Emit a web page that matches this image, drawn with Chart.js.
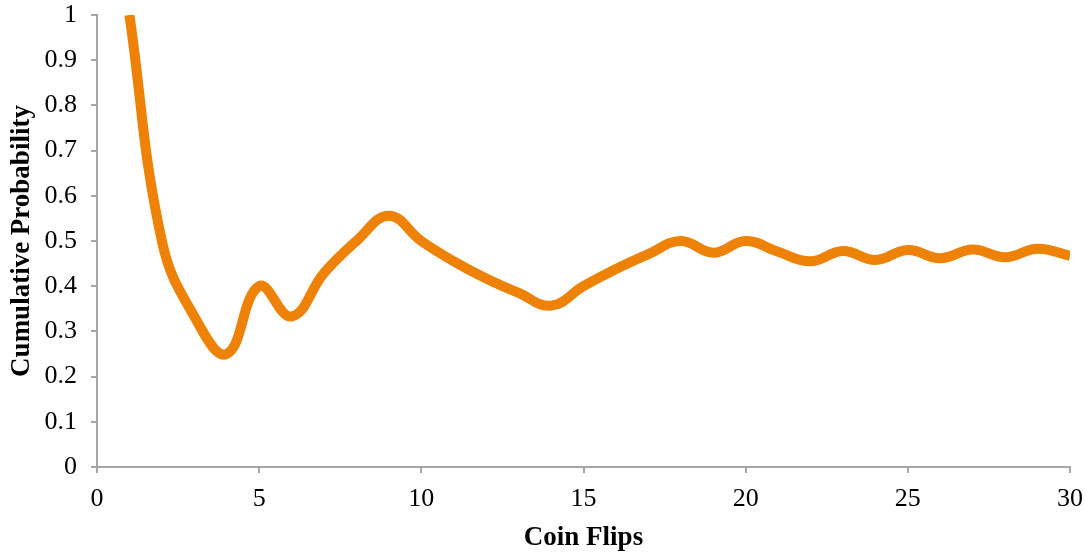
<!DOCTYPE html>
<html>
<head>
<meta charset="utf-8">
<script src="https://cdn.jsdelivr.net/npm/chart.js@4/dist/chart.umd.min.js"></script>
<style>
  html, body { margin: 0; padding: 0; background: #fff; }
  #wrap { width: 1086px; height: 554px; position: relative; }
</style>
</head>
<body>
<div id="wrap"><canvas id="c"></canvas></div>
<script>
// Number of coin flips so far
const flips = [1, 2, 3, 4, 5, 6, 7, 8, 9, 10,
               11, 12, 13, 14, 15, 16, 17, 18, 19, 20,
               21, 22, 23, 24, 25, 26, 27, 28, 29, 30];
// Running share of heads after each flip
const cumulativeProbability = [1.000, 0.500, 0.333, 0.250, 0.400, 0.333, 0.429, 0.500, 0.556, 0.500,
                               0.455, 0.417, 0.385, 0.357, 0.400, 0.438, 0.471, 0.500, 0.474, 0.500,
                               0.476, 0.455, 0.478, 0.458, 0.480, 0.462, 0.481, 0.464, 0.483, 0.467];
const xTicks = [0, 5, 10, 15, 20, 25, 30];
const yTicks = [0, 0.1, 0.2, 0.3, 0.4, 0.5, 0.6, 0.7, 0.8, 0.9, 1];

const points = flips.map((f, i) => ({ x: f, y: cumulativeProbability[i] }));
const axisGrey = '#A6A6A6';
const serif = "'Liberation Serif', 'Times New Roman', serif";

new Chart(document.getElementById('c'), {
  type: 'line',
  data: {
    datasets: [{
      data: points,
      borderColor: '#EE8206',
      borderWidth: 10,
      tension: 0.42,
      pointRadius: 0,
      fill: false,
      clip: 0,
      borderJoinStyle: 'round'
    }]
  },
  options: {
    responsive: true,
    maintainAspectRatio: false,
    animation: false,
    events: [],
    layout: { padding: { left: 0, top: 15, right: 16, bottom: 0 } },
    plugins: { legend: { display: false }, tooltip: { enabled: false } },
    scales: {
      x: {
        type: 'linear',
        min: 0, max: 30,
        afterBuildTicks: s => { s.ticks = xTicks.map(v => ({ value: v })); },
        afterFit: s => { s.height = 87; s.paddingLeft = 0; s.paddingRight = 0; },
        border: { display: true, color: axisGrey, width: 2 },
        grid: { display: true, drawOnChartArea: false, drawTicks: true, tickLength: 6, color: axisGrey, lineWidth: 2 },
        ticks: { color: '#000', font: { family: serif, size: 26 }, padding: 11, maxRotation: 0 },
        title: { display: true, text: 'Coin Flips', color: '#000', font: { family: serif, size: 27, weight: 'bold' }, padding: { top: 0, bottom: 0 } }
      },
      y: {
        min: 0, max: 1,
        afterBuildTicks: s => { s.ticks = yTicks.map(v => ({ value: v })); },
        afterFit: s => { s.width = 97; s.paddingTop = 0; s.paddingBottom = 0; },
        border: { display: true, color: axisGrey, width: 2 },
        grid: { display: true, drawOnChartArea: false, drawTicks: true, tickLength: 6, color: axisGrey, lineWidth: 2 },
        ticks: { color: '#000', font: { family: serif, size: 26 }, padding: 14, callback: v => String(Math.round(v * 10) / 10) },
        title: { display: true, text: 'Cumulative Probability', color: '#000', font: { family: serif, size: 27, weight: 'bold' }, padding: { top: 6, bottom: 0 } }
      }
    }
  }
});
</script>
</body>
</html>
